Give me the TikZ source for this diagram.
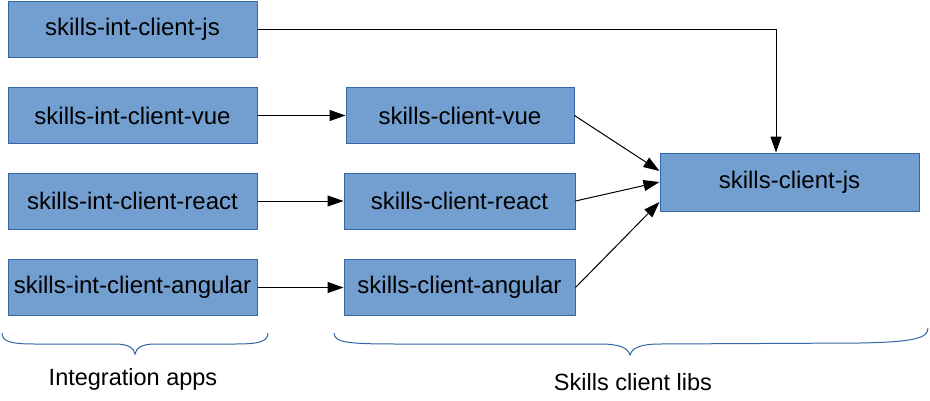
\documentclass[tikz,border=0pt]{standalone}
\usepackage{fontspec}
\setmainfont{Liberation Sans}
\usetikzlibrary{arrows.meta}
\definecolor{boxfill}{HTML}{729FCF}
\definecolor{boxline}{HTML}{3465A4}
\definecolor{bracecol}{HTML}{3465A4}
\tikzset{
  box/.style={draw=boxline, line width=1pt, fill=boxfill, inner sep=0pt, minimum height=56pt,
    font=\fontsize{24}{28}\selectfont, text=black},
  arr/.style={draw=black, line width=1pt, -{Triangle[length=16pt,width=11pt]}},
  bracepath/.style={draw=bracecol, line width=1pt},
  lbl/.style={font=\fontsize{23.5}{28}\selectfont, text=black, inner sep=0pt}
}
\begin{document}
\begin{tikzpicture}[x=1pt,y=-1pt]
\useasboundingbox (0,0) rectangle (930,400);
\node[box, minimum width=249pt] (intjs) at (132.5,29.5) {skills-int-client-js};
\node[box, minimum width=249pt] (intvue) at (132.5,115.5) {skills-int-client-vue};
\node[box, minimum width=249pt] (intreact) at (132.5,201) {skills-int-client-react};
\node[box, minimum width=249pt] (intang) at (132.5,287.5) {skills-int-client-angular};
\node[box, minimum width=228pt] (vue) at (460,115.5) {skills-client-vue};
\node[box, minimum width=231pt] (react) at (459.5,201) {skills-client-react};
\node[box, minimum width=231pt] (ang) at (459.5,287.5) {skills-client-angular};
\node[box, minimum width=259pt, minimum height=58pt] (js) at (789.5,182) {skills-client-js};

\draw[arr] (intjs.east) -| ([xshift=-13.5pt]js.north);
\draw[arr] (intvue.east) -- (vue.west);
\draw[arr] (intreact.east) -- (react.west);
\draw[arr] (intang.east) -- (ang.west);
\draw[arr] (vue.east) -- ([yshift=11pt]js.west);
\draw[arr] (react.east) -- (js.west);
\draw[arr] (ang.east) -- ([yshift=-20pt]js.west);

% braces
\draw[bracepath] (2,333) .. controls (2,342) and (12,344) .. (35,344) -- (115,344)
  .. controls (128,344) and (134,348) .. (135,354)
  .. controls (136,348) and (142,344) .. (155,344) -- (235,344)
  .. controls (258,344) and (268,342) .. (268,333);
\draw[bracepath] (334,333) .. controls (334,343) and (350,344) .. (400,344) -- (600,344)
  .. controls (620,344) and (628,348) .. (630,355)
  .. controls (632,348) and (640,344) .. (660,344) -- (860,343)
  .. controls (915,342) and (928,338) .. (928,328);

\node[lbl] (lblint) at (133,379) {Integration apps};
\node[lbl] (lblcli) at (633,382) {Skills client libs};
\end{tikzpicture}
\end{document}
